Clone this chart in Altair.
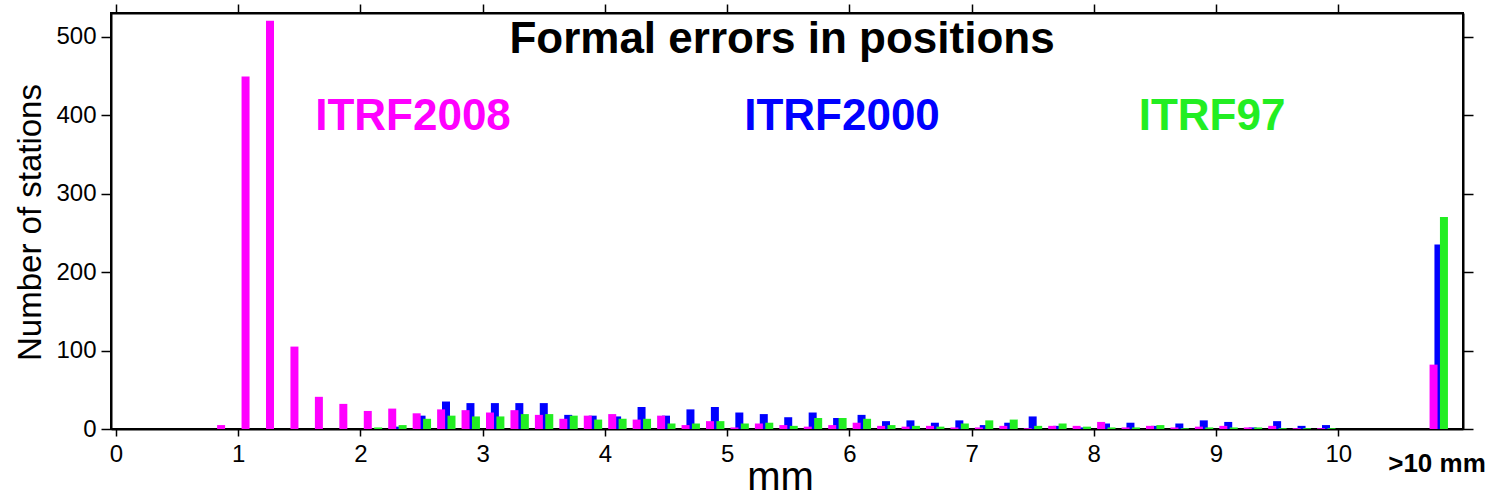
import altair as alt
import pandas as pd

# ---- data (bin centres in mm; last bin is ">10 mm") ----
centers = [0.9, 1.1, 1.3, 1.5, 1.7, 1.9, 2.1, 2.3, 2.5, 2.7, 2.9, 3.1, 3.3, 3.5, 3.7, 3.9,
           4.1, 4.3, 4.5, 4.7, 4.9, 5.1, 5.3, 5.5, 5.7, 5.9, 6.1, 6.3, 6.5, 6.7, 6.9,
           7.1, 7.3, 7.5, 7.7, 7.9, 8.1, 8.3, 8.5, 8.7, 8.9, 9.1, 9.3, 9.5, 9.7, 9.9, 10.82]
itrf2008 = [5, 449, 520, 105, 41, 32, 23, 26, 20, 25, 24, 21, 24, 18, 13, 17,
            19, 12, 17, 5, 10, 2, 7, 5, 3, 5, 8, 4, 3, 4, 2,
            2, 4, 1, 4, 4, 9, 2, 4, 2, 3, 4, 2, 4, 1, 1, 82]
itrf2000 = [0, 0, 0, 0, 0, 0, 0, 3, 17, 35, 33, 33, 33, 33, 18, 17,
            16, 28, 17, 25, 28, 21, 19, 15, 21, 14, 18, 10, 11, 8, 11,
            5, 8, 16, 4, 2, 7, 8, 4, 7, 11, 9, 2, 10, 4, 5, 235]
itrf97 = [0, 0, 0, 0, 0, 0, 2, 5, 13, 17, 16, 16, 19, 19, 17, 12,
          13, 13, 7, 7, 10, 7, 8, 4, 14, 14, 13, 5, 4, 3, 7,
          11, 12, 4, 7, 3, 2, 2, 5, 1, 2, 2, 2, 1, 1, 1, 270]
x_ticks = [0, 1, 2, 3, 4, 5, 6, 7, 8, 9, 10]
y_ticks = [0, 100, 200, 300, 400, 500]
title_text = "Formal errors in positions"
series_names = ["ITRF2008", "ITRF2000", "ITRF97"]
last_label = ">10 mm"
x_title = "mm"
y_title = "Number of stations"

df = pd.DataFrame({"center": centers, "ITRF2008": itrf2008,
                   "ITRF2000": itrf2000, "ITRF97": itrf97})

W, H = 1352, 416
FONT = "Liberation Sans"
colors = {"ITRF2008": "#ff00ff", "ITRF2000": "#0000ff", "ITRF97": "#22ee22"}
offsets = {"ITRF2008": -0.04, "ITRF2000": 0.0, "ITRF97": 0.045}

xscale = alt.Scale(domain=[0, 10.98], nice=False, zero=False)
yscale = alt.Scale(domain=[0, 530], nice=False)

axis_bottom = alt.Axis(values=x_ticks, orient="bottom", title=x_title, format="d",
                       labelFontSize=24, labelFont=FONT, labelColor="black",
                       labelPadding=6, tickSize=7, tickColor="black", tickWidth=1.5,
                       domainColor="black", domainWidth=2, grid=False,
                       titleFont=FONT, titleFontSize=40, titleFontWeight="normal",
                       titleColor="black", titleX=669, titleY=60,
                       titleBaseline="alphabetic")
axis_left = alt.Axis(values=y_ticks, orient="left", title=y_title,
                     labelFontSize=24, labelFont=FONT, labelColor="black",
                     labelPadding=5, tickSize=10, tickColor="black", tickWidth=1.5,
                     domainColor="black", domainWidth=2, grid=False,
                     titleFont=FONT, titleFontSize=33, titleFontWeight="normal",
                     titleColor="black", titleX=-71, titleY=H / 2 + 1,
                     titleAngle=270, titleAlign="center", titleBaseline="alphabetic")
axis_top = alt.Axis(values=x_ticks, orient="top", title=None, labels=False,
                    tickSize=9, tickColor="black", tickWidth=1.5,
                    domainColor="black", domainWidth=2, grid=False)
axis_right = alt.Axis(values=y_ticks, orient="right", title=None, labels=False,
                      tickSize=10, tickColor="black", tickWidth=1.5,
                      domainColor="black", domainWidth=2, grid=False)


def bars(name, xaxis, yaxis):
    return (alt.Chart(df)
            .transform_calculate(pos=f"datum.center + ({offsets[name]})")
            .mark_bar(size=8, color=colors[name])
            .encode(x=alt.X("pos:Q", scale=xscale, axis=xaxis),
                    y=alt.Y(f"{name}:Q", scale=yscale, axis=yaxis)))


blue = bars("ITRF2000", axis_bottom, axis_left)
magenta = bars("ITRF2008", axis_top, axis_right)
green = bars("ITRF97", None, None)


def label(text, px, py, size, color, weight="bold"):
    return (alt.Chart(pd.DataFrame({"t": [text]}))
            .mark_text(font=FONT, fontSize=size, fontWeight=weight, color=color,
                       align="center", baseline="alphabetic")
            .encode(text="t:N", x=alt.value(px), y=alt.value(py)))


texts = [
    label(title_text, 671, 40, 44, "black"),
    label(series_names[0], 302, 117, 44, colors["ITRF2008"]),
    label(series_names[1], 731, 117, 44, colors["ITRF2000"]),
    label(series_names[2], 1101, 117, 44, colors["ITRF97"]),
    label(last_label, 1326, 459, 26, "black"),
]

chart = (alt.layer(blue, magenta, green, *texts)
         .resolve_axis(x="independent", y="independent")
         .properties(width=W, height=H,
                     autosize=alt.AutoSizeParams(type="none"),
                     padding={"left": 111, "top": 13, "right": 34, "bottom": 70},
                     background="white")
         .configure_view(stroke="black", strokeWidth=2))

chart.save("out.html", embed_options={"renderer": "svg", "actions": False})
